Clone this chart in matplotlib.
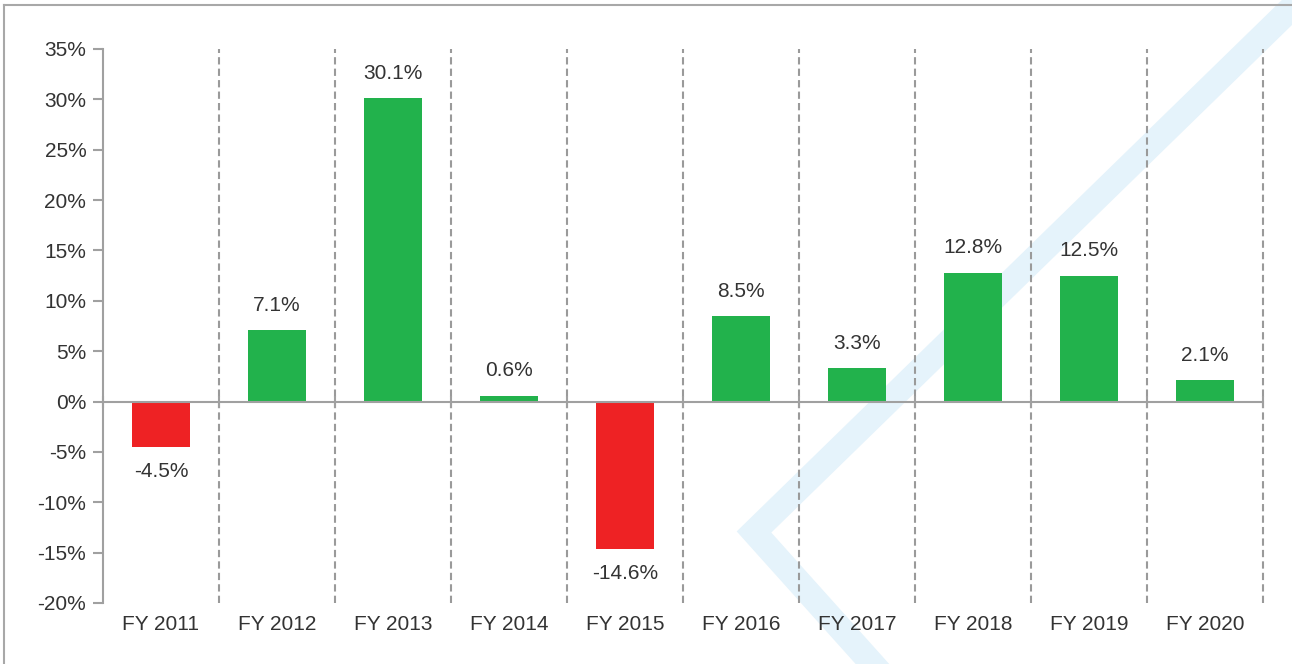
import numpy as np
import matplotlib.pyplot as plt
from matplotlib.lines import Line2D

plt.rcParams['font.family'] = ['Liberation Sans', 'DejaVu Sans']

years = ['FY 2011', 'FY 2012', 'FY 2013', 'FY 2014', 'FY 2015',
         'FY 2016', 'FY 2017', 'FY 2018', 'FY 2019', 'FY 2020']
growth = [-4.5, 7.1, 30.1, 0.6, -14.6, 8.5, 3.3, 12.8, 12.5, 2.1]

W, H = 1292, 664
fig = plt.figure(figsize=(W / 100, H / 100), dpi=100)

# pale chevron watermark behind the chart (figure pixels)
chev = Line2D([1310 / W, 754 / W, 885 / W],
              [1 - (-10) / H, 1 - 532 / H, 1 - 678 / H],
              transform=fig.transFigure, color='#e5f3fb', lw=18,
              solid_joinstyle='miter', zorder=0)
fig.add_artist(chev)

# thin frame at left / top
fig.add_artist(Line2D([4 / W, 4 / W], [0, 1 - 5 / H], transform=fig.transFigure,
                      color='#a8a8a8', lw=1.5, zorder=1))
fig.add_artist(Line2D([4 / W, 1], [1 - 5 / H, 1 - 5 / H], transform=fig.transFigure,
                      color='#a8a8a8', lw=1.5, zorder=1))

ax = fig.add_axes([103 / W, 1 - 603 / H, (1263 - 103) / W, (603 - 49) / H])
ax.set_facecolor('none')

x = np.arange(len(years))
colors = ['#22b24c' if v >= 0 else '#ee2224' for v in growth]
ax.bar(x, growth, width=0.5, color=colors, zorder=3)

for xi, v in zip(x, growth):
    if v >= 0:
        ax.annotate(f'{v:.1f}%', (xi, v), xytext=(0, 11), textcoords='offset points',
                    ha='center', va='bottom', fontsize=15, color='#333333')
    else:
        ax.annotate(f'{v:.1f}%', (xi, v), xytext=(0, -11), textcoords='offset points',
                    ha='center', va='top', fontsize=15, color='#333333')

ax.set_xlim(-0.5, len(years) - 0.5)
ax.set_ylim(-20, 35)
ax.set_yticks(np.arange(-20, 36, 5))
ax.set_yticklabels([f'{t}%' for t in range(-20, 36, 5)])

# dashed separators between categories
for b in np.arange(0.5, len(years), 1.0):
    ax.axvline(b, color='#9a9a9a', lw=1.5, ls=(0, (3.5, 2)), zorder=2, clip_on=False)
ax.axhline(0, color='#a0a0a0', lw=1.5, zorder=4)
ax.plot(np.arange(-0.5, len(years), 1.0), np.zeros(len(years) + 1), ls='none',
        marker='|', ms=9, mew=1.5, color='#a0a0a0', zorder=4, clip_on=False)

ax.set_xticks(x)
ax.set_xticklabels(years)
ax.tick_params(axis='x', length=0, pad=9, labelsize=15, labelcolor='#333333')
ax.tick_params(axis='y', length=7, width=1.5, color='#a0a0a0', pad=5,
               labelsize=15, labelcolor='#333333')

for s in ['top', 'right', 'bottom']:
    ax.spines[s].set_visible(False)
ax.spines['left'].set_color('#a0a0a0')
ax.spines['left'].set_linewidth(1.5)

fig.savefig('out.png', dpi=100)
